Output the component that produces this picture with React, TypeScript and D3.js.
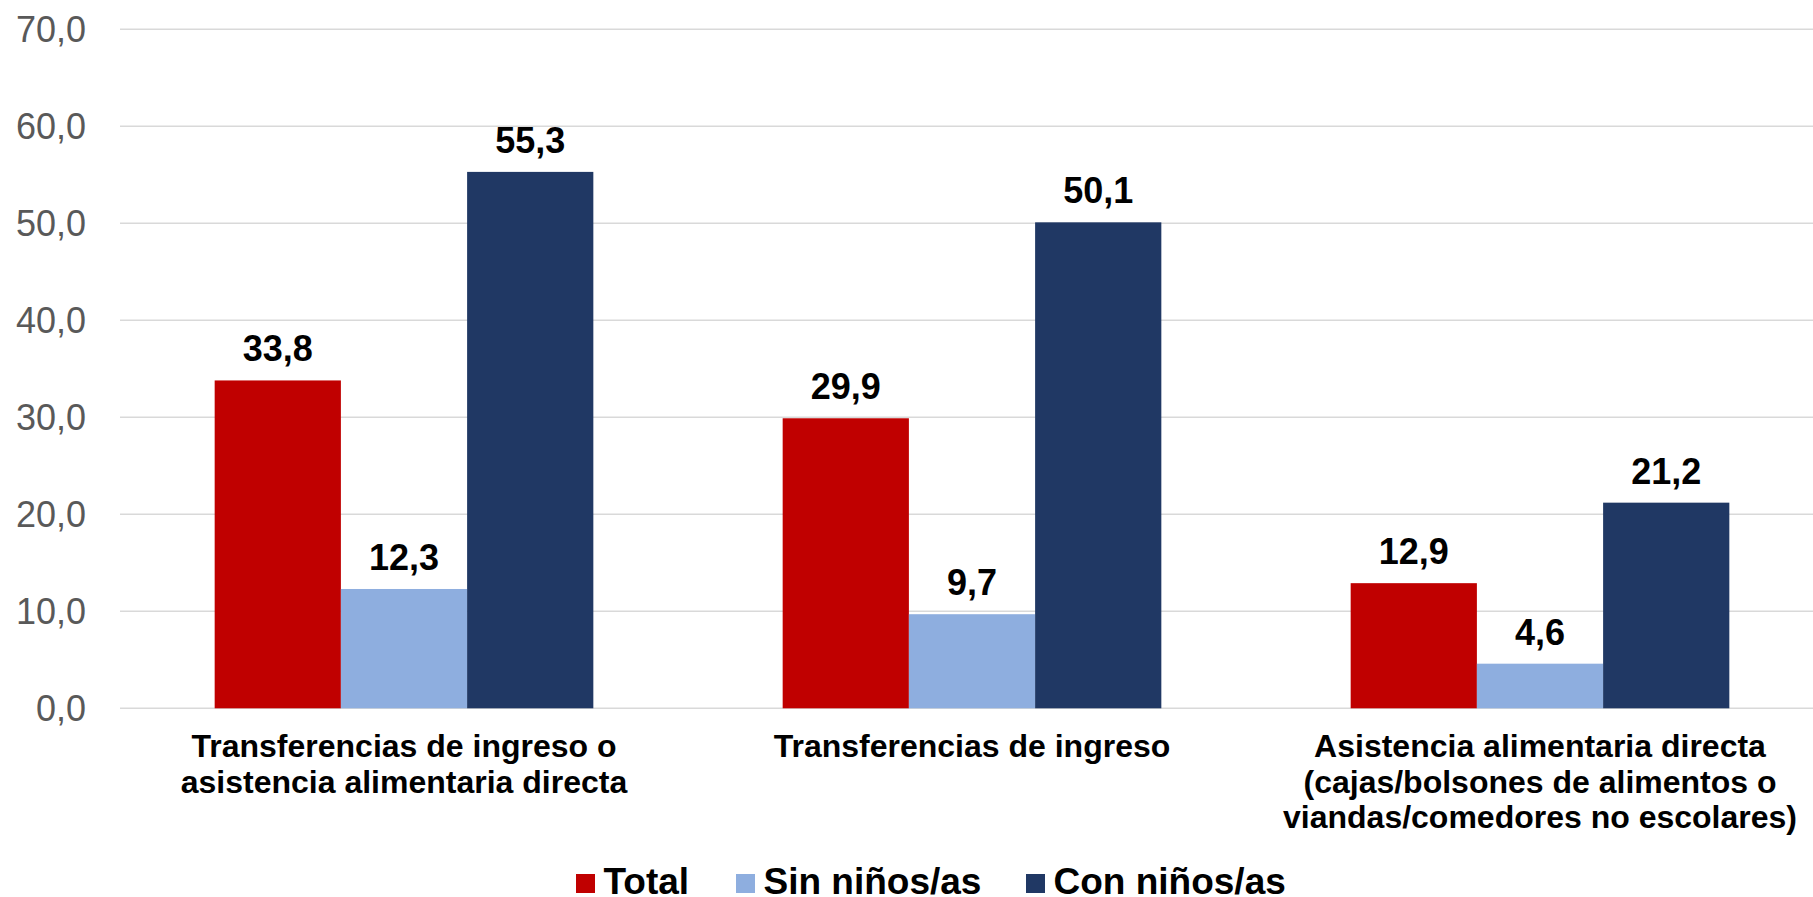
import React from "react";
import * as d3 from "d3";

const categories: string[][] = [
  ["Transferencias de ingreso o", "asistencia alimentaria directa"],
  ["Transferencias de ingreso"],
  ["Asistencia alimentaria directa", "(cajas/bolsones de alimentos o", "viandas/comedores no escolares)"],
];
const seriesNames = ["Total", "Sin niños/as", "Con niños/as"];
const totalValues = [33.8, 29.9, 12.9];
const sinValues = [12.3, 9.7, 4.6];
const conValues = [55.3, 50.1, 21.2];
const yTicks = [0, 10, 20, 30, 40, 50, 60, 70];
const colors = ["#C00000", "#8EAEDF", "#203864"];

const W = 1813;
const H = 897;
const FONT = "'Liberation Sans', Arial, Helvetica, sans-serif";

export default function App() {
  const series = [totalValues, sinValues, conValues];
  const x0 = d3.scaleBand<number>().domain([0, 1, 2]).range([120, 1824]).paddingInner(0).paddingOuter(0);
  const groupW = x0.bandwidth() * (3 / 4.5);
  const x1 = d3.scaleBand<number>().domain([0, 1, 2]).range([0, groupW]);
  const y = d3.scaleLinear().domain([0, 70]).range([708.3, 29.3]);
  const fmt = (v: number) => d3.format(".1f")(v).replace(".", ",");

  const legendX = [576, 736, 1026];
  return (
    <svg width={W} height={H} style={{ position: "absolute", left: 0, top: 0 }} fontFamily={FONT}>
      <rect width={W} height={H} fill="#fff" />
      {yTicks.map((t) => (
        <g key={t}>
          <line x1={120} x2={W} y1={y(t)} y2={y(t)} stroke="#D9D9D9" strokeWidth={1.5} />
          <text x={86} y={y(t)} dy="0.35em" textAnchor="end" fontSize={36} fill="#595959">
            {fmt(t)}
          </text>
        </g>
      ))}
      {categories.map((cat, i) => {
        const gx = (x0(i) as number) + (x0.bandwidth() - groupW) / 2;
        return (
          <g key={i}>
            {series.map((s, j) => {
              const bx = gx + (x1(j) as number);
              const v = s[i];
              return (
                <g key={j}>
                  <rect x={bx} y={y(v)} width={x1.bandwidth()} height={y(0) - y(v)} fill={colors[j]} />
                  <text
                    x={bx + x1.bandwidth() / 2}
                    y={y(v) - 19}
                    textAnchor="middle"
                    fontSize={36}
                    fontWeight="bold"
                    fill="#000"
                  >
                    {fmt(v)}
                  </text>
                </g>
              );
            })}
            <text
              x={(x0(i) as number) + x0.bandwidth() / 2}
              y={757}
              textAnchor="middle"
              fontSize={32}
              fontWeight="bold"
              fill="#000"
            >
              {cat.map((line, k) => (
                <tspan key={k} x={(x0(i) as number) + x0.bandwidth() / 2} dy={k === 0 ? 0 : 35.7}>
                  {line}
                </tspan>
              ))}
            </text>
          </g>
        );
      })}
      {seriesNames.map((name, j) => (
        <g key={name}>
          <rect x={legendX[j]} y={874} width={19} height={19} fill={colors[j]} />
          <text x={legendX[j] + 27.5} y={893.5} fontSize={37} fontWeight="bold" fill="#000">
            {name}
          </text>
        </g>
      ))}
    </svg>
  );
}
